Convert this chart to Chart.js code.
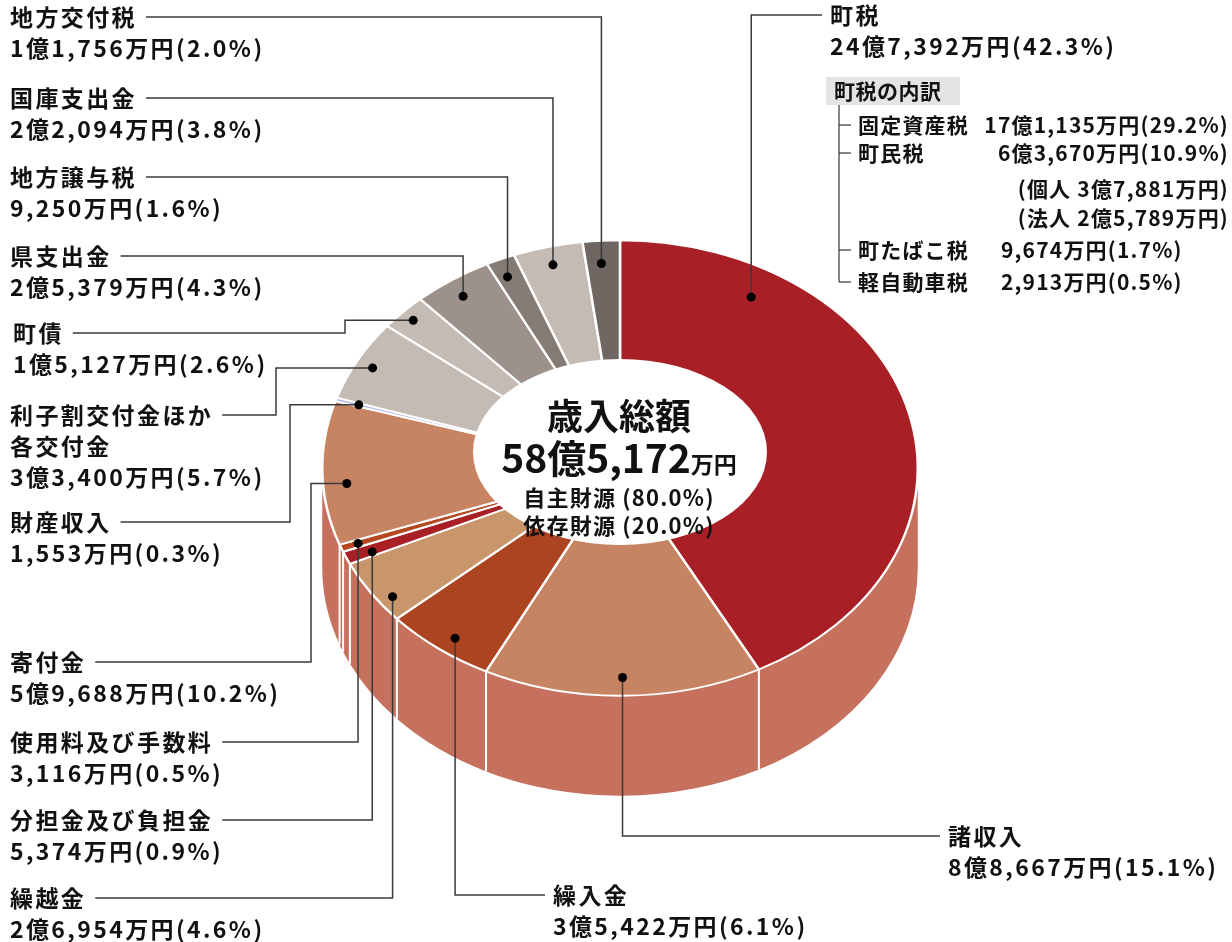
<!DOCTYPE html>
<html>
<head>
<meta charset="utf-8">
<script src="https://cdn.jsdelivr.net/npm/chart.js@4/dist/chart.umd.min.js"></script>
<style>
	html, body {margin: 0; padding: 0; background: #fff;}
	canvas {display: block;}
</style>
</head>
<body>
<canvas id="chart" width="1232" height="942"></canvas>
<script>
'use strict'
// 歳入の内訳（単位：万円）
const categories = ['町税', '諸収入', '繰入金', '繰越金', '分担金及び負担金', '使用料及び手数料', '寄付金', '財産収入', '利子割交付金ほか各交付金', '町債', '県支出金', '地方譲与税', '国庫支出金', '地方交付税'];
const amounts = [247392, 88667, 35422, 26954, 5374, 3116, 59688, 1553, 33400, 15127, 25379, 9250, 22094, 11756];
const amountLabels = ['24億7,392万円', '8億8,667万円', '3億5,422万円', '2億6,954万円', '5,374万円', '3,116万円', '5億9,688万円', '1,553万円', '3億3,400万円', '1億5,127万円', '2億5,379万円', '9,250万円', '2億2,094万円', '1億1,756万円'];
const shareLabels = ['42.3%', '15.1%', '6.1%', '4.6%', '0.9%', '0.5%', '10.2%', '0.3%', '5.7%', '2.6%', '4.3%', '1.6%', '3.8%', '2.0%'];
const nameLines = [['町税'], ['諸収入'], ['繰入金'], ['繰越金'], ['分担金及び負担金'], ['使用料及び手数料'], ['寄付金'], ['財産収入'], ['利子割交付金ほか', '各交付金'], ['町債'], ['県支出金'], ['地方譲与税'], ['国庫支出金'], ['地方交付税']];
const colors = ['#a81f26', '#c68462', '#ad4421', '#c8966a', '#a81f26', '#b5481f', '#c68462', '#b7bde6', '#c5bbb5', '#c5bbb5', '#9c918b', '#857b75', '#c5bbb5', '#706762'];

// 中央
const totalLines = ['歳入総額', '58億5,172', '万円'];
const sourceLines = ['自主財源 (80.0%)', '依存財源 (20.0%)'];

// 町税の内訳
const breakdownTitle = '町税の内訳';
const breakdownNames = ['固定資産税', '町民税', '', '', '町たばこ税', '軽自動車税'];
const breakdownValues = ['17億1,135万円(29.2%)', '6億3,670万円(10.9%)', '(個人 3億7,881万円)', '(法人 2億5,789万円)', '9,674万円(1.7%)', '2,913万円(0.5%)'];

// レイアウト
const TILT = 0.765, DEPTH = 100, WALL = '#c6705e';
const FONT = '"Noto Sans CJK JP", "Noto Sans", sans-serif';
// x, y(1行目の中心), side, route, elbow
const labelPos = [
	{x: 830, y: 15, side: 'right', route: 'hv'},
	{x: 948, y: 836, side: 'right', route: 'hv'},
	{x: 553, y: 895, side: 'right', route: 'hv'},
	{x: 10, y: 898, side: 'left', route: 'hv'},
	{x: 10, y: 820, side: 'left', route: 'hv'},
	{x: 10, y: 742, side: 'left', route: 'hv'},
	{x: 10, y: 662, side: 'left', route: 'hvh', elbow: 311},
	{x: 10, y: 522, side: 'left', route: 'hvh', elbow: 290},
	{x: 10, y: 415, side: 'left', route: 'hvh', elbow: 276},
	{x: 13, y: 333, side: 'left', route: 'hvh', elbow: 345},
	{x: 10, y: 256, side: 'left', route: 'hv'},
	{x: 10, y: 177, side: 'left', route: 'hv'},
	{x: 10, y: 98, side: 'left', route: 'hv'},
	{x: 10, y: 17, side: 'left', route: 'hv'}
];
// 点の位置: [角度比, 半径比]
const dotPos = [[0.2, 0.87], [0.5, 0.92], [0.45, 0.93], [0.3, 0.95], [0.3, 0.91], [0.5, 0.94], [0.42, 0.92], [0.5, 0.92], [0.48, 0.94], [0.48, 0.95], [0.46, 0.92], [0.4, 0.92], [0.49, 0.92], [0.45, 0.9]];

function screenPoint(arc, t, rf) {
	let a = arc.startAngle + t * (arc.endAngle - arc.startAngle);
	let r = rf * arc.outerRadius;
	return {x: arc.x + r * Math.cos(a), y: arc.y + TILT * r * Math.sin(a)};
}

const pseudo3d = {
	id: 'pseudo3d',
	beforeDatasetsDraw(chart) {
		let ctx = chart.ctx;
		let arcs = chart.getDatasetMeta(0).data;
		let cx = arcs[0].x, cy = arcs[0].y, R = arcs[0].outerRadius;
		// 側面
		ctx.save();
		ctx.fillStyle = WALL;
		arcs.forEach(arc => {
			let a1 = Math.max(arc.startAngle, 0), a2 = Math.min(arc.endAngle, Math.PI);
			if (a2 <= a1) return;
			ctx.beginPath();
			ctx.ellipse(cx, cy, R, R * TILT, 0, a1, a2);
			ctx.ellipse(cx, cy + DEPTH, R, R * TILT, 0, a2, a1, true);
			ctx.closePath();
			ctx.fill();
		});
		ctx.strokeStyle = '#fff';
		ctx.lineWidth = 2;
		arcs.forEach(arc => {
			let a = arc.startAngle;
			if (a <= 0 || a >= Math.PI) return;
			let x = cx + R * Math.cos(a), y = cy + R * TILT * Math.sin(a);
			ctx.beginPath();
			ctx.moveTo(x, y);
			ctx.lineTo(x, y + DEPTH);
			ctx.stroke();
		});
		ctx.restore();
		// 上面は縦方向につぶして描く
		ctx.save();
		ctx.translate(cx, cy);
		ctx.scale(1, TILT);
		ctx.translate(-cx, -cy);
	},
	afterDatasetsDraw(chart) {
		let ctx = chart.ctx;
		ctx.restore();
		let arcs = chart.getDatasetMeta(0).data;
		let cx = arcs[0].x - 1, cy = arcs[0].y;

		// 中央の穴
		ctx.save();
		ctx.fillStyle = '#fff';
		ctx.beginPath();
		ctx.ellipse(cx + 1, cy - 16, 147, 93, 0, 0, Math.PI * 2);
		ctx.fill();

		ctx.fillStyle = '#111';
		ctx.textBaseline = 'middle';
		ctx.textAlign = 'center';
		ctx.font = `bold 36px ${FONT}`;
		ctx.fillText(totalLines[0], cx, cy - 52);
		ctx.font = `bold 39px ${FONT}`;
		let w1 = ctx.measureText(totalLines[1]).width;
		ctx.font = `bold 23px ${FONT}`;
		let w2 = ctx.measureText(totalLines[2]).width;
		let sx = cx - (w1 + w2) / 2;
		ctx.textAlign = 'left';
		ctx.textBaseline = 'alphabetic';
		ctx.font = `bold 39px ${FONT}`;
		ctx.fillText(totalLines[1], sx, cy + 5);
		ctx.font = `bold 23px ${FONT}`;
		ctx.fillText(totalLines[2], sx + w1, cy + 5);
		ctx.textAlign = 'center';
		ctx.textBaseline = 'middle';
		ctx.font = `600 22px ${FONT}`;
		ctx.letterSpacing = '1.2px';
		ctx.fillText(sourceLines[0], cx, cy + 30);
		ctx.fillText(sourceLines[1], cx, cy + 58);

		// ラベルと引出線
		ctx.font = `bold 23px ${FONT}`;
		ctx.letterSpacing = '2.4px';
		arcs.forEach((arc, i) => {
			let p = labelPos[i];
			let dot = screenPoint(arc, dotPos[i][0], dotPos[i][1]);
			let lines = nameLines[i].concat([`${amountLabels[i]}(${shareLabels[i]})`]);
			ctx.fillStyle = '#111';
			ctx.textAlign = 'left';
			lines.forEach((s, j) => ctx.fillText(s, p.x, p.y + j * 31));

			let start;
			if (p.side === 'left') start = p.x + ctx.measureText(lines[0]).width + 9;
			else start = p.x - 8;
			ctx.strokeStyle = '#3a3a3a';
			ctx.lineWidth = 1.5;
			ctx.beginPath();
			ctx.moveTo(start, p.y);
			if (p.route === 'hvh') {
				ctx.lineTo(p.elbow, p.y);
				ctx.lineTo(p.elbow, dot.y);
				ctx.lineTo(dot.x, dot.y);
			} else {
				ctx.lineTo(dot.x, p.y);
				ctx.lineTo(dot.x, dot.y);
			}
			ctx.stroke();
			ctx.fillStyle = '#000';
			ctx.beginPath();
			ctx.arc(dot.x, dot.y, 4.5, 0, Math.PI * 2);
			ctx.fill();
		});

		// 町税の内訳
		ctx.letterSpacing = '0.5px';
		ctx.fillStyle = '#e4e4e4';
		ctx.fillRect(826, 77, 134, 28);
		ctx.fillStyle = '#111';
		ctx.font = `bold 21px ${FONT}`;
		ctx.fillText(breakdownTitle, 834, 91);
		let rowY = [125, 153, 189, 218, 250, 282];
		ctx.strokeStyle = '#333';
		ctx.lineWidth = 1.2;
		ctx.beginPath();
		ctx.moveTo(839, 105);
		ctx.lineTo(839, 282);
		ctx.stroke();
		ctx.letterSpacing = '1.2px';
		breakdownNames.forEach((name, j) => {
			if (name) {
				ctx.beginPath();
				ctx.moveTo(839, rowY[j]);
				ctx.lineTo(851, rowY[j]);
				ctx.stroke();
				ctx.textAlign = 'left';
				ctx.fillText(name, 858, rowY[j]);
			}
			if (j < 4) {
				ctx.textAlign = 'right';
				ctx.fillText(breakdownValues[j], 1229, rowY[j]);
			} else {
				ctx.textAlign = 'left';
				ctx.fillText(breakdownValues[j], 1001, rowY[j]);
			}
		});
		ctx.restore();
	}
};

new Chart(document.getElementById('chart'), {
	type: 'doughnut',
	data: {
		labels: categories,
		datasets: [{
			data: amounts,
			backgroundColor: colors,
			borderColor: '#fff',
			borderWidth: 2.5
		}]
	},
	options: {
		responsive: false,
		animation: false,
		events: [],
		cutout: '30%',
		layout: {padding: {left: 321, right: 313, top: 169, bottom: 175}},
		plugins: {legend: {display: false}, tooltip: {enabled: false}}
	},
	plugins: [pseudo3d]
});
</script>
</body>
</html>
